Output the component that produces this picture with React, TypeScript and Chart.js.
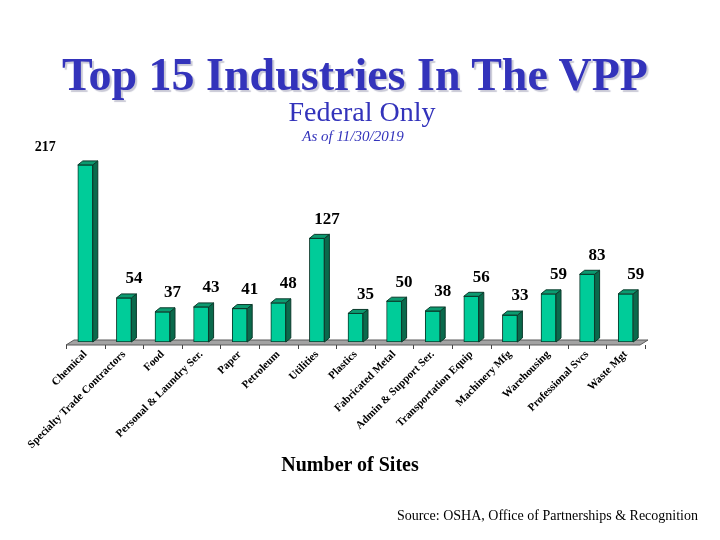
import React, { useEffect, useRef } from "react";
import { Chart, registerables } from "chart.js";

Chart.register(...registerables);

const categories = [
  "Chemical",
  "Specialty Trade Contractors",
  "Food",
  "Personal & Laundry Ser.",
  "Paper",
  "Petroleum",
  "Utilities",
  "Plastics",
  "Fabricated Metal",
  "Admin & Support Ser.",
  "Transportation Equip",
  "Machinery Mfg",
  "Warehousing",
  "Professional Svcs",
  "Waste Mgt",
];
const sites = [217, 54, 37, 43, 41, 48, 127, 35, 50, 38, 56, 33, 59, 83, 59];
const yMin = 0;
const yMax = 250;

const DX = 5;
const DY = 4;

const bar3d = {
  id: "bar3d",
  beforeDatasetsDraw(chart: any) {
    const { ctx, chartArea: a, scales } = chart;
    const x = scales.x;
    const base = a.bottom;
    const n = chart.data.labels.length;
    const step = (a.right - a.left) / n;
    ctx.save();
    ctx.beginPath();
    ctx.moveTo(a.left, base + 3);
    ctx.lineTo(a.left + 8, base - 2);
    ctx.lineTo(a.right + 3, base - 2);
    ctx.lineTo(a.right - 5, base + 3);
    ctx.closePath();
    ctx.fillStyle = "#a3a3a3";
    ctx.fill();
    ctx.strokeStyle = "#5a5a5a";
    ctx.lineWidth = 1;
    ctx.stroke();
    ctx.beginPath();
    for (let i = 0; i <= n; i++) {
      const px = Math.round(x.getPixelForValue(i) - step / 2) + 0.5;
      ctx.moveTo(px, base + 3);
      ctx.lineTo(px, base + 7);
    }
    ctx.strokeStyle = "#444";
    ctx.stroke();
    ctx.restore();
  },
  afterDatasetsDraw(chart: any) {
    const { ctx } = chart;
    const meta = chart.getDatasetMeta(0);
    const data = chart.data.datasets[0].data as number[];
    const maxVal = Math.max(...data);
    ctx.save();
    ctx.lineWidth = 1;
    ctx.strokeStyle = "#0b3a2b";
    meta.data.forEach((el: any) => {
      const { x, y, base, width } = el.getProps(["x", "y", "base", "width"], true);
      const l = x - width / 2;
      const r = x + width / 2;
      // side
      ctx.beginPath();
      ctx.moveTo(r, base);
      ctx.lineTo(r + DX, base - DY);
      ctx.lineTo(r + DX, y - DY);
      ctx.lineTo(r, y);
      ctx.closePath();
      ctx.fillStyle = "#0a6a4c";
      ctx.fill();
      ctx.stroke();
      // top
      ctx.beginPath();
      ctx.moveTo(l, y);
      ctx.lineTo(l + DX, y - DY);
      ctx.lineTo(r + DX, y - DY);
      ctx.lineTo(r, y);
      ctx.closePath();
      ctx.fillStyle = "#0c9a70";
      ctx.fill();
      ctx.stroke();
    });
    // value labels
    ctx.fillStyle = "#000";
    ctx.textAlign = "center";
    ctx.textBaseline = "middle";
    meta.data.forEach((el: any, i: number) => {
      const { x, y } = el.getProps(["x", "y"], true);
      const v = data[i];
      if (v === maxVal) {
        ctx.font = "bold 14px 'Liberation Serif'";
        ctx.fillText(String(v), x - 40, y - 18);
      } else {
        ctx.font = "bold 17px 'Liberation Serif'";
        ctx.fillText(String(v), x + 10, y - 19);
      }
    });
    ctx.restore();
  },
};

export default function App() {
  const ref = useRef<HTMLCanvasElement | null>(null);
  useEffect(() => {
    document.body.style.margin = "0";
    const canvas = ref.current;
    if (!canvas) return;
    const chart = new Chart(canvas, {
      type: "bar",
      data: {
        labels: categories,
        datasets: [
          {
            data: sites,
            backgroundColor: "#00cc99",
            borderColor: "#0b3a2b",
            borderWidth: 1,
            barThickness: 15,
            borderSkipped: false,
          },
        ],
      },
      options: {
        responsive: false,
        animation: false,
        layout: { padding: { top: 138, left: 66, right: 75, bottom: 0 } },
        plugins: { legend: { display: false }, tooltip: { enabled: false } },
        scales: {
          x: {
            grid: { display: false, drawTicks: false },
            border: { display: false },
            ticks: {
              autoSkip: false,
              minRotation: 45,
              maxRotation: 45,
              padding: 6,
              color: "#000",
              font: { family: "'Liberation Serif'", size: 11, weight: "bold" },
            },
            afterFit(scale: any) {
              scale.height = 198;
            },
          },
          y: { display: false, min: yMin, max: yMax },
        },
      },
      plugins: [bar3d],
    });
    return () => chart.destroy();
  }, []);

  const serif = "'Liberation Serif', 'Times New Roman', serif";
  return (
    <div style={{ position: "relative", width: 720, height: 540, background: "#fff", overflow: "hidden" }}>
      <canvas ref={ref} width={720} height={540} style={{ position: "absolute", left: 0, top: 0 }} />
      <div
        style={{
          position: "absolute",
          left: 0,
          width: 710,
          top: 50,
          textAlign: "center",
          fontFamily: serif,
          fontWeight: "bold",
          fontSize: 46,
          color: "#3333bb",
          textShadow: "2px 2px 1px #c9c9d6",
          lineHeight: "50px",
          whiteSpace: "nowrap",
        }}
      >
        Top 15 Industries In The VPP
      </div>
      <div
        style={{
          position: "absolute",
          left: 0,
          width: 724,
          top: 96,
          textAlign: "center",
          fontFamily: serif,
          fontSize: 28,
          color: "#3333bb",
          lineHeight: "32px",
        }}
      >
        Federal Only
      </div>
      <div
        style={{
          position: "absolute",
          left: 0,
          width: 706,
          top: 127,
          textAlign: "center",
          fontFamily: serif,
          fontStyle: "italic",
          fontSize: 15,
          color: "#3333bb",
          lineHeight: "18px",
        }}
      >
        As of 11/30/2019
      </div>
      <div
        style={{
          position: "absolute",
          left: 0,
          width: 700,
          top: 452,
          textAlign: "center",
          fontFamily: serif,
          fontWeight: "bold",
          fontSize: 20,
          color: "#000",
          lineHeight: "24px",
        }}
      >
        Number of Sites
      </div>
      <div
        style={{
          position: "absolute",
          right: 22,
          top: 507,
          fontFamily: serif,
          fontSize: 14,
          color: "#000",
          lineHeight: "18px",
          whiteSpace: "nowrap",
        }}
      >
        Source: OSHA, Office of Partnerships &amp; Recognition
      </div>
    </div>
  );
}
